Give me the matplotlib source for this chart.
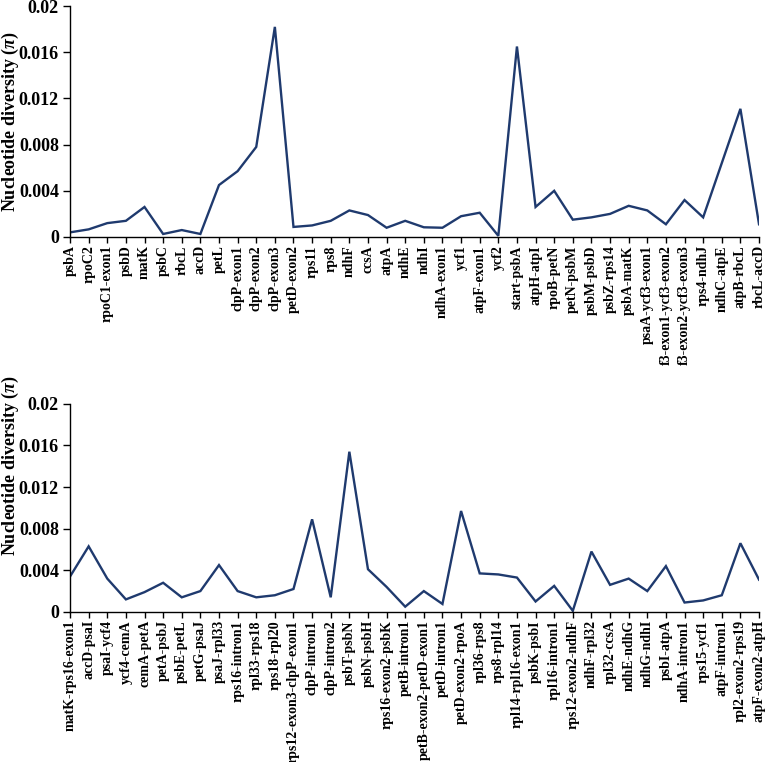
import matplotlib
matplotlib.use("Agg")
import matplotlib.pyplot as plt

# region names and nucleotide diversity values
top_regions = ["psbA", "rpoC2", "rpoC1-exon1", "psbD", "matK", "psbC", "rbcL", "accD",
               "petL", "clpP-exon1", "clpP-exon2", "clpP-exon3", "petD-exon2", "rps11",
               "rps8", "ndhF", "ccsA", "atpA", "ndhE", "ndhI", "ndhA-exon1", "ycf1",
               "atpF-exon1", "ycf2", "start-psbA", "atpH-atpI", "rpoB-petN", "petN-psbM",
               "psbM-psbD", "psbZ-rps14", "psbA-matK", "psaA-ycf3-exon1",
               "f3-exon1-ycf3-exon2", "f3-exon2-ycf3-exon3", "rps4-ndhJ", "ndhC-atpE",
               "atpB-rbcL", "rbcL-accD"]
top_pi = [0.0004, 0.00066, 0.0012, 0.0014, 0.0026, 0.00026, 0.0006, 0.00026,
          0.0045, 0.0057, 0.0078, 0.0182, 0.00087, 0.001,
          0.0014, 0.0023, 0.0019, 0.0008, 0.0014, 0.00084, 0.0008, 0.0018,
          0.0021, 0.0001, 0.0165, 0.0026, 0.004, 0.0015,
          0.0017, 0.002, 0.0027, 0.0023,
          0.0011, 0.0032, 0.0017, 0.0064,
          0.0111, 0.0011]

bottom_regions = ["matK-rps16-exon1", "accD-psaI", "psaI-ycf4", "ycf4-cemA", "cemA-petA",
                  "petA-psbJ", "psbE-petL", "petG-psaJ", "psaJ-rpl33", "rps16-intron1",
                  "rpl33-rps18", "rps18-rpl20", "rps12-exon3-clpP-exon1", "clpP-intron1",
                  "clpP-intron2", "psbT-psbN", "psbN-psbH", "rps16-exon2-psbK",
                  "petB-intron1", "petB-exon2-petD-exon1", "petD-intron1",
                  "petD-exon2-rpoA", "rpl36-rps8", "rps8-rpl14", "rpl14-rpl16-exon1",
                  "psbK-psbI", "rpl16-intron1", "rps12-exon2-ndhF", "ndhF-rpl32",
                  "rpl32-ccsA", "ndhE-ndhG", "ndhG-ndhI", "psbI-atpA", "ndhA-intron1",
                  "rps15-ycf1", "atpF-intron1", "rpl2-exon2-rps19", "atpF-exon2-atpH"]
bottom_pi = [0.0034, 0.0063, 0.0032, 0.0012, 0.0019,
             0.0028, 0.0014, 0.002, 0.0045, 0.002,
             0.0014, 0.0016, 0.0022, 0.0089,
             0.0014, 0.0154, 0.0041, 0.0024,
             0.0005, 0.002, 0.00076,
             0.0097, 0.0037, 0.0036, 0.0033,
             0.001, 0.0025, 0.0001, 0.0058,
             0.0026, 0.0032, 0.002, 0.0044, 0.0009,
             0.0011, 0.0016, 0.0066, 0.0031]

y_ticks = [0, 0.004, 0.008, 0.012, 0.016, 0.02]
y_ticklabels = ["0", "0.004", "0.008", "0.012", "0.016", "0.02"]

plt.rcParams["font.family"] = ["Liberation Serif", "DejaVu Serif"]
plt.rcParams["font.weight"] = "bold"
plt.rcParams["mathtext.fontset"] = "custom"
plt.rcParams["mathtext.it"] = "Liberation Serif:italic:bold"
plt.rcParams["mathtext.bf"] = "Liberation Serif:italic:bold"

line_color = "#1f3a6e"

fig = plt.figure(figsize=(7.67, 7.62), dpi=100)
ax_top = fig.add_axes([0.0913, 0.689, 0.8983, 0.303])
ax_bot = fig.add_axes([0.0913, 0.197, 0.8983, 0.273])


def draw_panel(ax, regions, values, label_y):
    x = list(range(len(regions)))
    ax.plot(x, values, color=line_color, linewidth=1.7, solid_joinstyle="miter")
    ax.set_xlim(0, len(regions) - 1)
    ax.set_ylim(0, 0.02)
    ax.set_xticks(x)
    ax.set_xticklabels(regions, rotation=90, fontsize=10, fontweight="bold")
    ax.set_yticks(y_ticks)
    ax.set_yticklabels(y_ticklabels, fontsize=13, fontweight="bold")
    ax.spines["top"].set_visible(False)
    ax.spines["right"].set_visible(False)
    ax.spines["left"].set_linewidth(1.0)
    ax.spines["bottom"].set_linewidth(1.0)
    ax.tick_params(axis="y", direction="out", length=5, width=1.0, pad=3)
    ax.tick_params(axis="x", direction="out", length=4, width=1.0, pad=2)
    ax.set_ylabel(r"Nucleotide diversity ($\mathit{\pi}$)", fontsize=13, fontweight="bold")
    ax.yaxis.set_label_coords(-0.071, label_y)


draw_panel(ax_top, top_regions, top_pi, 0.5)
draw_panel(ax_bot, bottom_regions, bottom_pi, 0.705)

fig.savefig("out.png", dpi=100)
